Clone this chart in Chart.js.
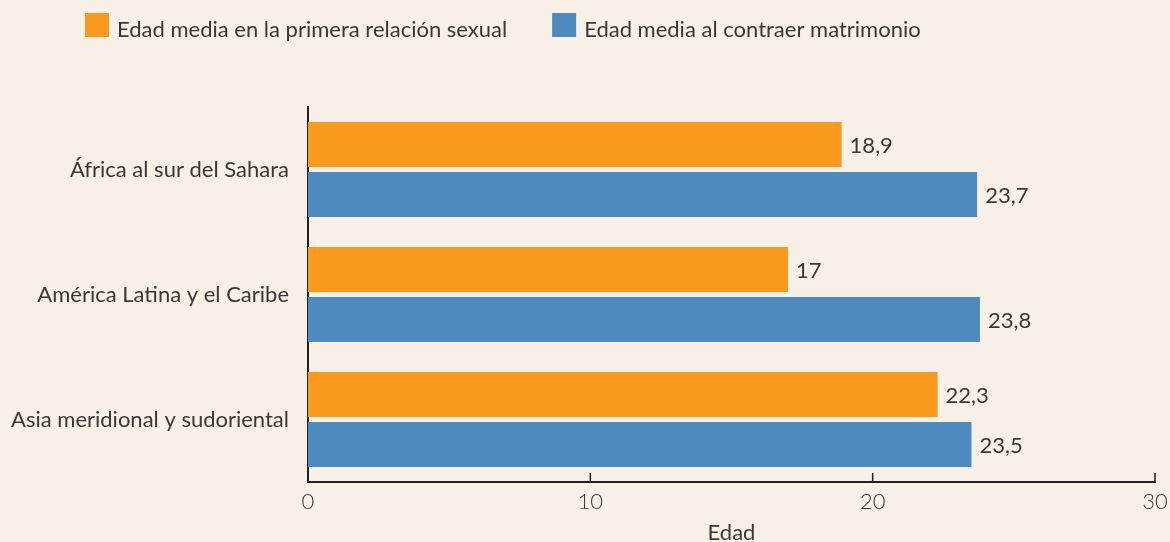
<!DOCTYPE html>
<html><head><meta charset="utf-8">
<script src="https://cdn.jsdelivr.net/npm/chart.js@4"></script>
<style>html,body{margin:0;padding:0;background:#f8efe6;}</style>
</head><body>
<canvas id="c" width="1170" height="542"></canvas>
<script>
const categories = ['África al sur del Sahara', 'América Latina y el Caribe', 'Asia meridional y sudoriental'];
const firstSexAge = [18.9, 17, 22.3];
const marriageAge = [23.7, 23.8, 23.5];
const seriesLabels = ['Edad media en la primera relación sexual', 'Edad media al contraer matrimonio'];
const xTickValues = [0, 10, 20, 30];
const xTitle = 'Edad';

const BG = '#f8efe6', ORANGE = '#f99a1e', BLUE = '#4d8bbf', TEXT = '#3b3738', AXIS = '#231f20';
const FONT = 'Lato';

const bgPlugin = {
  id: 'bg',
  beforeDraw(chart) {
    const ctx = chart.ctx;
    ctx.save(); ctx.fillStyle = BG; ctx.fillRect(0, 0, chart.width, chart.height); ctx.restore();
  }
};

const legendPlugin = {
  id: 'customLegend',
  afterDraw(chart) {
    const ctx = chart.ctx;
    ctx.save();
    ctx.font = '400 22px ' + FONT;
    ctx.textBaseline = 'middle';
    let x = 85;
    chart.data.datasets.forEach(ds => {
      ctx.fillStyle = ds.backgroundColor;
      ctx.fillRect(x, 13, 24, 24);
      ctx.fillStyle = TEXT;
      ctx.fillText(ds.label, x + 32, 30);
      x += 32 + ctx.measureText(ds.label).width + 45;
    });
    ctx.restore();
  }
};

const tickMarkPlugin = {
  id: 'insideTicks',
  afterDraw(chart) {
    const sx = chart.scales.x, ctx = chart.ctx, b = chart.chartArea.bottom;
    ctx.save();
    ctx.strokeStyle = AXIS; ctx.lineWidth = 1.5;
    xTickValues.forEach(v => {
      if (v === 0) return;
      const px = sx.getPixelForValue(v);
      ctx.beginPath(); ctx.moveTo(px, b - 9); ctx.lineTo(px, b); ctx.stroke();
    });
    ctx.restore();
  }
};

const valueLabelPlugin = {
  id: 'valueLabels',
  afterDatasetsDraw(chart) {
    const ctx = chart.ctx;
    ctx.save();
    ctx.font = '400 22px ' + FONT;
    ctx.fillStyle = TEXT;
    ctx.textBaseline = 'middle';
    chart.data.datasets.forEach((ds, di) => {
      chart.getDatasetMeta(di).data.forEach((el, i) => {
        ctx.fillText(String(ds.data[i]).replace('.', ','), el.x + 8, el.y + 1);
      });
    });
    ctx.restore();
  }
};

new Chart(document.getElementById('c'), {
  type: 'bar',
  data: {
    labels: categories,
    datasets: [
      { label: seriesLabels[0], data: firstSexAge, backgroundColor: ORANGE },
      { label: seriesLabels[1], data: marriageAge, backgroundColor: BLUE }
    ]
  },
  options: {
    indexAxis: 'y',
    responsive: false,
    animation: false,
    devicePixelRatio: 1,
    categoryPercentage: 0.8,
    barPercentage: 0.9,
    layout: { padding: { top: 107, right: 15, left: 0, bottom: 0 } },
    plugins: { legend: { display: false }, tooltip: { enabled: false } },
    scales: {
      x: {
        min: 0, max: 30,
        afterBuildTicks(scale) { scale.ticks = xTickValues.map(v => ({ value: v })); },
        afterFit(scale) { scale.height = 60; scale.paddingRight = 0; scale.paddingLeft = 0; },
        grid: { display: false, drawTicks: false },
        border: { display: true, color: AXIS, width: 2 },
        ticks: { color: TEXT, padding: 7, font: { family: FONT, size: 22, weight: '300' } },
        title: { display: true, text: xTitle, color: TEXT, padding: { top: 0, bottom: -4 }, font: { family: FONT, size: 22 } }
      },
      y: {
        afterFit(scale) { scale.width = 308; },
        grid: { display: false, drawTicks: false },
        border: { display: true, color: AXIS, width: 2 },
        ticks: { color: TEXT, padding: 19, font: { family: FONT, size: 22 } }
      }
    }
  },
  plugins: [bgPlugin, legendPlugin, tickMarkPlugin, valueLabelPlugin]
});
</script>
</body></html>
